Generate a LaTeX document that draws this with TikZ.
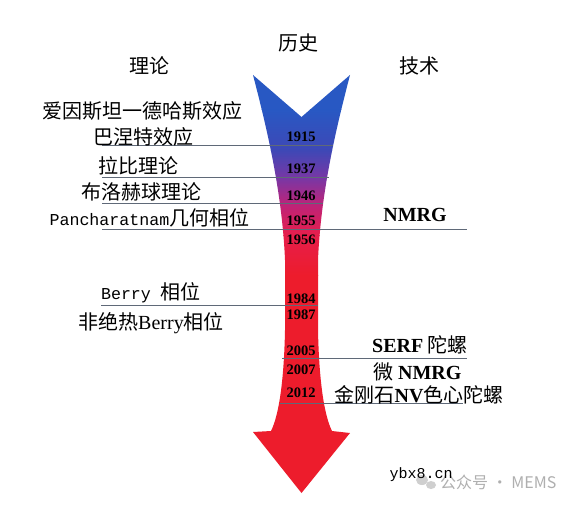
\documentclass[tikz,border=0pt]{standalone}
\usepackage{fontspec}
\setmainfont{Liberation Serif}
\newfontfamily\cjk{Noto Sans CJK SC}
\newfontfamily\lmono{Liberation Mono}[Scale=0.833]
\newfontfamily\wmono{Liberation Mono}
\definecolor{ablue}{RGB}{40,88,195}
\definecolor{ablue2}{RGB}{62,72,182}
\definecolor{apurple}{RGB}{120,55,165}
\definecolor{amag}{RGB}{190,35,120}
\definecolor{apink}{RGB}{230,30,75}
\definecolor{ared}{RGB}{237,28,44}
\definecolor{rulec}{RGB}{95,105,120}
\definecolor{wmgray}{RGB}{175,175,175}
\tikzset{
  rulestyle/.style={draw=rulec, line width=1pt},
  yearlbl/.style={inner sep=0pt, font=\fontsize{14.5}{16}\selectfont\bfseries},
  leftlbl/.style={inner sep=0pt, font=\cjk\fontsize{20}{24}\selectfont},
  headlbl/.style={inner sep=0pt, font=\cjk\fontsize{20}{24}\selectfont},
  rightlbl/.style={inner sep=0pt, font=\cjk\fontsize{20}{24}\selectfont},
}
\newcommand{\arrowpath}{(253,75) .. controls (266,125) and (282,190) .. (285,260)
  -- (285,330) .. controls (284,380) and (279,415) .. (271,431)
  -- (253,432) -- (301.5,493) -- (350,433) -- (332,431)
  .. controls (324,415) and (319,380) .. (318,330)
  -- (318,260) .. controls (321,190) and (337,125) .. (350,75)
  -- (301.5,117) -- cycle}
\begin{document}
\begin{tikzpicture}[x=1pt,y=-1pt]
\useasboundingbox[fill=white] (0,0) rectangle (569,505);
% arrow
\begin{scope}
  \clip \arrowpath;
  \fill[ablue] (240,60) rectangle (370,110);
  \shade[top color=ablue, bottom color=ablue2] (240,110) rectangle (370,150);
  \shade[top color=ablue2, bottom color=apurple] (240,150) rectangle (370,178);
  \shade[top color=apurple, bottom color=amag] (240,178) rectangle (370,205);
  \shade[top color=amag, bottom color=apink] (240,205) rectangle (370,235);
  \shade[top color=apink, bottom color=ared] (240,235) rectangle (370,275);
  \fill[ared] (240,275) rectangle (370,500);
\end{scope}
% headers
\node[headlbl] (hist) at (298,43) {历史};
\node[headlbl] (theo) at (149,66) {理论};
\node[headlbl] (tech) at (419,66) {技术};
% rules
\draw[rulestyle] (102,146) -- (333,146);
\draw[rulestyle] (102,177) -- (329,177);
\draw[rulestyle] (102,203) -- (323,203);
\draw[rulestyle] (102,229.5) -- (467,229.5);
\draw[rulestyle] (101,305.5) -- (318,305.5);
\draw[rulestyle] (282,358) -- (467,358);
\draw[rulestyle] (280,403) -- (463,403);
% years
\node[yearlbl] (y1915) at (301,137) {1915};
\node[yearlbl] (y1937) at (301,169) {1937};
\node[yearlbl] (y1946) at (301,196) {1946};
\node[yearlbl] (y1955) at (301,221) {1955};
\node[yearlbl] (y1956) at (301,239.5) {1956};
\node[yearlbl] (y1984) at (301,299) {1984};
\node[yearlbl] (y1987) at (301,315) {1987};
\node[yearlbl] (y2005) at (301,351) {2005};
\node[yearlbl] (y2007) at (301,370) {2007};
\node[yearlbl] (y2012) at (301,393) {2012};
% left texts
\node[leftlbl] (t1) at (142.5,111) {爱因斯坦一德哈斯效应};
\node[leftlbl] (t2) at (143,137) {巴涅特效应};
\node[leftlbl] (t3) at (138.5,166) {拉比理论};
\node[leftlbl] (t4) at (141,192) {布洛赫球理论};
\node[leftlbl] (t5) at (149.5,218) {{\lmono Pancharatnam}几何相位};
\node[leftlbl] (t6) at (151,293) {{\lmono Berry }相位};
\node[leftlbl] (t7) at (151,323) {非绝热{\rmfamily Berry}相位};
% right texts
\node[rightlbl] (r1) at (415,215) {\rmfamily\bfseries NMRG};
\node[rightlbl] (r2) at (420,345) {{\rmfamily\bfseries SERF} 陀螺};
\node[rightlbl] (r3) at (417.5,372) {微 {\rmfamily\bfseries NMRG}};
\node[rightlbl] (r4) at (419,395) {金刚石{\rmfamily\bfseries NV}色心陀螺};
% watermark
\fill[wmgray!60] (422,480) ellipse (6 and 5);
\fill[wmgray!60] (431,485) ellipse (5 and 4);
\node[inner sep=0pt, anchor=west, text=wmgray, font=\cjk\fontsize{16}{18}\selectfont] (wm2) at (440,482) {公众号 · MEMS};
\node[inner sep=0pt, text=black, font=\wmono\fontsize{15}{16}\selectfont] (wm1) at (421,475) {ybx8.cn};
\end{tikzpicture}
\end{document}
